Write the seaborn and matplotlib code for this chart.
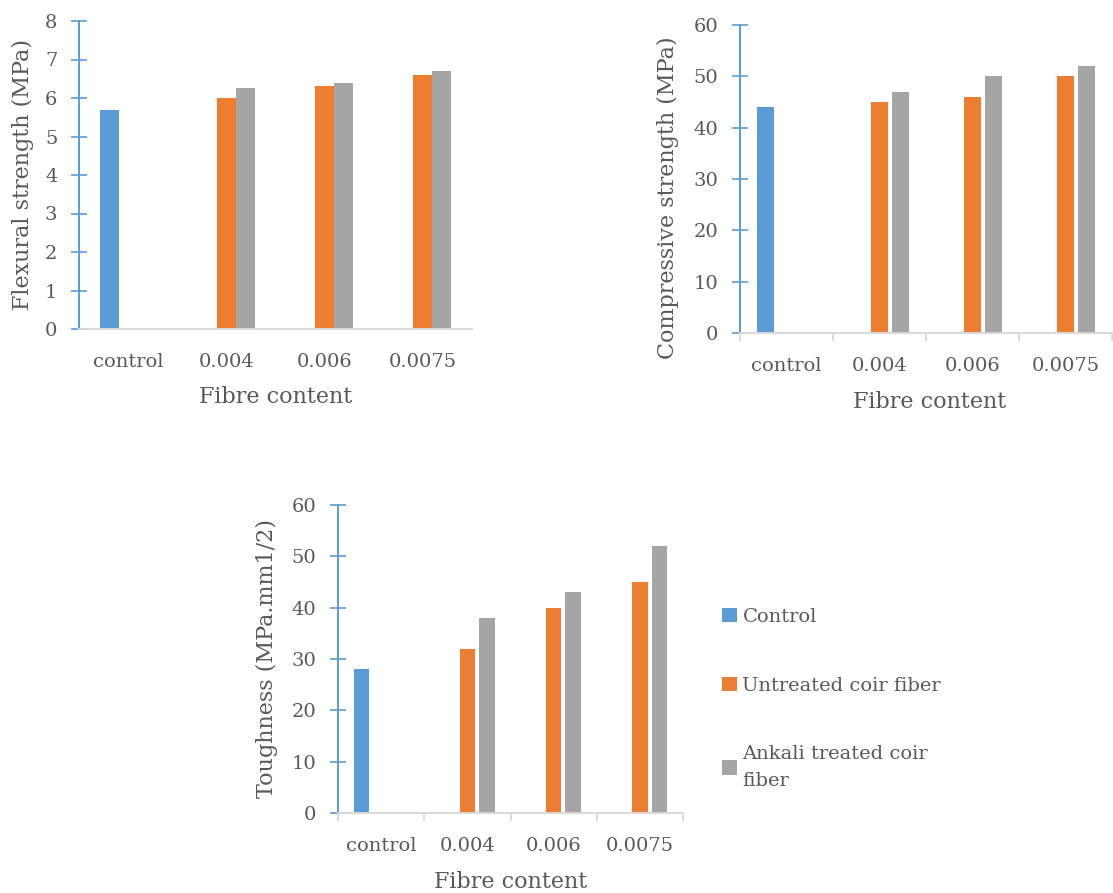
import matplotlib
matplotlib.use('Agg')  # Non-interactive backend
import matplotlib.pyplot as plt
import seaborn as sns
import pandas as pd
from matplotlib.patches import Patch

# --- data ---
categories = ["control", "0.004", "0.006", "0.0075"]
series = ["Control", "Untreated coir fiber", "Ankali treated coir\nfiber"]
colors = ["#5B9BD5", "#ED7D31", "#A5A5A5"]

flexural_control = [5.7]
flexural_untreated = [6.0, 6.3, 6.6]
flexural_alkali = [6.25, 6.4, 6.7]

compressive_control = [44]
compressive_untreated = [45, 46, 50]
compressive_alkali = [47, 50, 52]

toughness_control = [28]
toughness_untreated = [32, 40, 45]
toughness_alkali = [38, 43, 52]

TEXT = "#595959"
AXIS_BLUE = "#5B9BD5"
AXIS_GREY = "#D9D9D9"


def make_df(control, untreated, alkali):
    rows = []
    for c, v in zip(categories[:1], control):
        rows.append((c, series[0], v))
    for c, v in zip(categories[1:], untreated):
        rows.append((c, series[1], v))
    for c, v in zip(categories[1:], alkali):
        rows.append((c, series[2], v))
    return pd.DataFrame(rows, columns=["fibre", "series", "value"])


def draw_panel(ax, df, ymax, ystep, ylabel, width, gap, xticks, ylab_pos, xlab_pos):
    sns.barplot(data=df, x="fibre", y="value", hue="series", order=categories,
                hue_order=series, palette=colors, saturation=1, errorbar=None,
                width=width, gap=gap, dodge=True, legend=False, linewidth=0, ax=ax)
    ax.set_xlim(-0.5, 3.5)
    ax.set_ylim(0, ymax)
    ax.set_yticks(range(0, ymax + 1, ystep))
    ax.set_facecolor("white")
    ax.grid(False)
    for s in ["top", "right"]:
        ax.spines[s].set_visible(False)
    ax.spines["left"].set_color(AXIS_BLUE)
    ax.spines["left"].set_linewidth(1.4)
    ax.spines["bottom"].set_color(AXIS_GREY)
    ax.spines["bottom"].set_linewidth(1.4)
    ax.tick_params(axis="y", direction="inout", length=11, width=1.2, color=AXIS_BLUE,
                   labelsize=14, labelcolor=TEXT, pad=10, left=True)
    ax.tick_params(axis="x", which="major", length=0, labelsize=14, labelcolor=TEXT, pad=17)
    if xticks:
        ax.set_xticks([-0.5, 0.5, 1.5, 2.5, 3.5], minor=True)
        ax.tick_params(axis="x", which="minor", direction="out", length=6, width=1.4,
                       color=AXIS_GREY, bottom=True)
    ax.set_ylabel(ylabel, fontsize=16, color=TEXT, va="center")
    ax.set_xlabel("Fibre content", fontsize=16, color=TEXT, va="center")
    ax.yaxis.set_label_coords(*ylab_pos)
    ax.xaxis.set_label_coords(*xlab_pos)


sns.set_style("white")
plt.rcParams['font.family'] = ['DejaVu Serif']
plt.rcParams['text.color'] = TEXT

fig = plt.figure(figsize=(11.13, 8.93), dpi=100)
W, H = 1113, 893

ax1 = fig.add_axes([79 / W, 1 - 329 / H, 393 / W, 308 / H])
draw_panel(ax1, make_df(flexural_control, flexural_untreated, flexural_alkali),
           8, 1, "Flexural strength (MPa)", 0.58, 0, False,
           (-0.142, 0.5), (0.5, -0.22))

ax2 = fig.add_axes([740 / W, 1 - 333 / H, 372 / W, 308 / H])
draw_panel(ax2, make_df(compressive_control, compressive_untreated, compressive_alkali),
           60, 10, "Compressive strength (MPa)", 0.68, 0.2, True,
           (-0.194, 0.44), (0.51, -0.224))

ax3 = fig.add_axes([338 / W, 1 - 813 / H, 345 / W, 308 / H])
draw_panel(ax3, make_df(toughness_control, toughness_untreated, toughness_alkali),
           60, 10, "Toughness (MPa.mm1/2)", 0.68, 0.2, True,
           (-0.206, 0.5), (0.5, -0.224))

handles = [Patch(facecolor=c, edgecolor="none") for c in colors]
leg = fig.legend(handles, series, loc="upper left", bbox_to_anchor=(722 / W, 1 - 608 / H),
                 frameon=False, fontsize=14, labelspacing=2.6, handlelength=0.75,
                 handleheight=0.75, handletextpad=0.3, borderpad=0, borderaxespad=0,
                 labelcolor=TEXT)
leg.get_texts()[2].set_linespacing(1.6)

plt.savefig("out.png", dpi=100)
plt.close()
